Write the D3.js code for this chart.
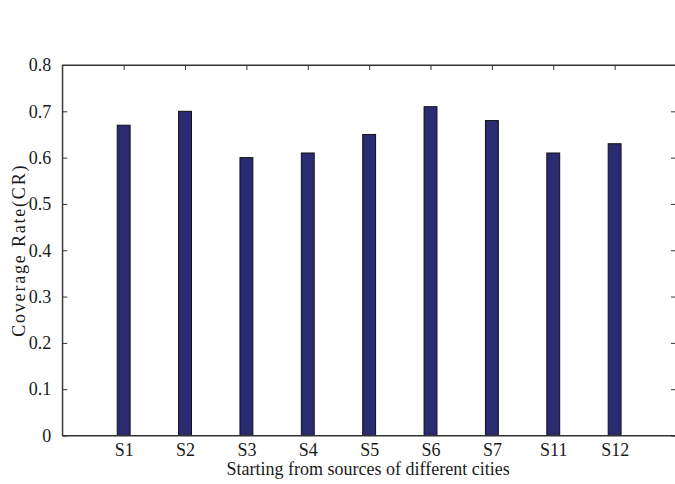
<!DOCTYPE html>
<html><head><meta charset="utf-8">
<script src="https://cdn.jsdelivr.net/npm/d3@7"></script>
<style>
html,body{margin:0;padding:0;background:#fff;overflow:hidden;}
text{font-family:"Liberation Serif","Times New Roman",serif;fill:#1a1a1a;}
</style></head>
<body><svg id="c" width="675" height="484"></svg>
<script>
const categories = ["S1","S2","S3","S4","S5","S6","S7","S11","S12"];
const values = [0.67,0.70,0.60,0.61,0.65,0.71,0.68,0.61,0.63];
const yTicks = [0,0.1,0.2,0.3,0.4,0.5,0.6,0.7,0.8];
const yLabels = ["0","0.1","0.2","0.3","0.4","0.5","0.6","0.7","0.8"];
const xTitle = "Starting from sources of different cities";
const yTitle = "Coverage Rate(CR)";

(function(){
const svg = d3.select("#c");
const L = 62.3, R = 676, T = 65, B = 435.5;
const x = d3.scaleLinear().domain([0, categories.length + 1]).range([L, R]);
const y = d3.scaleLinear().domain([0, 0.8]).range([B, T]);
const axisColor = "#333";
const bw = 0.21;

svg.append("g").selectAll("rect").data(values).join("rect")
  .attr("x", (d,i) => x(i+1 - bw/2))
  .attr("width", x(bw) - x(0))
  .attr("y", d => y(d))
  .attr("height", d => y(0) - y(d))
  .attr("fill", "#2b2b73")
  .attr("stroke", "#111")
  .attr("stroke-width", 1);

svg.append("rect").attr("x", L).attr("y", T).attr("width", R-L).attr("height", B-T)
  .attr("fill", "none").attr("stroke", axisColor).attr("stroke-width", 1);

const idx = categories.map((c,i) => i+1);
const axB = d3.axisBottom(x).tickValues(idx).tickFormat((d) => categories[d-1]).tickSizeInner(-5).tickSizeOuter(0).tickPadding(11);
const gb = svg.append("g").attr("transform", `translate(0,${B})`).call(axB);
const axT = d3.axisTop(x).tickValues(idx).tickFormat("").tickSizeInner(-5).tickSizeOuter(0);
const gt = svg.append("g").attr("transform", `translate(0,${T})`).call(axT);
const axL = d3.axisLeft(y).tickValues(yTicks).tickFormat((d,i) => yLabels[i]).tickSizeInner(-5).tickSizeOuter(0).tickPadding(11);
const gl = svg.append("g").attr("transform", `translate(${L},0)`).call(axL);
const axR = d3.axisRight(y).tickValues(yTicks).tickFormat("").tickSizeInner(-5).tickSizeOuter(0);
const gr = svg.append("g").attr("transform", `translate(${R},0)`).call(axR);

[gb,gt,gl,gr].forEach(g => {
  g.select(".domain").attr("stroke", axisColor);
  g.selectAll(".tick line").attr("stroke", axisColor);
  g.selectAll("text").attr("font-size", 18).attr("fill", "#1a1a1a")
    .attr("font-family", "'Liberation Serif','Times New Roman',serif");
});
gb.selectAll(".tick text").attr("dy", "0.55em");

svg.append("text").attr("x", (L+R)/2 - 1).attr("y", 475)
  .attr("text-anchor", "middle").attr("font-size", 18).text(xTitle);
svg.append("text").attr("transform", `translate(25,${(T+B)/2}) rotate(-90)`)
  .attr("text-anchor", "middle").attr("font-size", 18).attr("letter-spacing", "1.8px").text(yTitle);
})();
</script></body></html>
